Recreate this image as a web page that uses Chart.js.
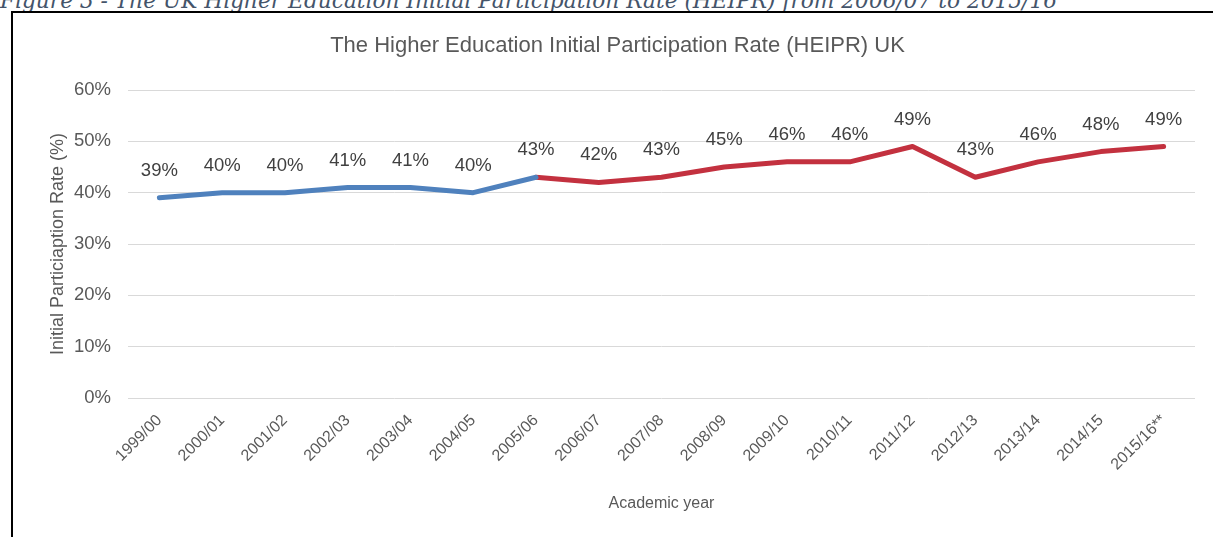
<!DOCTYPE html>
<html>
<head>
<meta charset="utf-8">
<script src="https://cdn.jsdelivr.net/npm/chart.js@4.4.1/dist/chart.umd.min.js"></script>
<style>
  html, body { margin: 0; padding: 0; background: #fff; width: 1213px; height: 537px; overflow: hidden; }
  #wrap { position: relative; width: 1213px; height: 537px; }
  #caption { position: absolute; left: 0; top: -12px; white-space: nowrap; font-family: "DejaVu Serif", "Liberation Serif", serif; font-style: italic; font-size: 22px; line-height: 26px; color: #44546a; transform-origin: 0 0; }
  #box { position: absolute; left: 11px; top: 11px; width: 1300px; height: 600px; border: 2px solid #000; box-sizing: border-box; background: transparent; }
  canvas { position: absolute; left: 0; top: 0; }
</style>
</head>
<body>
<div id="wrap">
  <div id="caption">Figure 3 - The UK Higher Education Initial Participation Rate (HEIPR) from 2006/07 to 2015/16</div>
  <div id="box"></div>
  <canvas id="c" width="1213" height="537"></canvas>
</div>
<script>
const categories = ["1999/00","2000/01","2001/02","2002/03","2003/04","2004/05","2005/06","2006/07","2007/08","2008/09","2009/10","2010/11","2011/12","2012/13","2013/14","2014/15","2015/16**"];
const earlyRates = [39,40,40,41,41,40,43,null,null,null,null,null,null,null,null,null,null];
const laterRates = [null,null,null,null,null,null,43,42,43,45,46,46,49,43,46,48,49];
const yTicks = [0,10,20,30,40,50,60];

// fit caption width
const cap = document.getElementById('caption');
const w = cap.getBoundingClientRect().width;
cap.style.transform = 'scaleX(' + (1057 / w) + ')';

const FONT = '"Liberation Sans", Arial, sans-serif';

const labelPlugin = {
  id: 'pointLabels',
  afterDatasetsDraw(chart) {
    const ctx = chart.ctx;
    ctx.save();
    ctx.font = '18.5px ' + FONT;
    ctx.fillStyle = '#404040';
    ctx.textAlign = 'center';
    ctx.textBaseline = 'middle';
    chart.data.datasets.forEach((ds, di) => {
      const meta = chart.getDatasetMeta(di);
      meta.data.forEach((pt, i) => {
        const v = ds.data[i];
        if (v === null || v === undefined) return;
        if (di === 1 && earlyRates[i] !== null) return; // avoid duplicate label
        ctx.fillText(v + '%', pt.x, pt.y - 27);
      });
    });
    ctx.restore();
  }
};

new Chart(document.getElementById('c'), {
  type: 'line',
  data: {
    labels: categories,
    datasets: [
      { data: earlyRates, borderColor: '#4f81bd', backgroundColor: '#4f81bd', borderWidth: 5, pointRadius: 0, tension: 0, spanGaps: false, borderCapStyle: 'round', borderJoinStyle: 'round' },
      { data: laterRates, borderColor: '#c3313f', backgroundColor: '#c3313f', borderWidth: 5, pointRadius: 0, tension: 0, spanGaps: false, borderCapStyle: 'round', borderJoinStyle: 'round' }
    ]
  },
  options: {
    responsive: false,
    animation: false,
    devicePixelRatio: 1,
    layout: { padding: { left: 40, right: 18, top: 0, bottom: 0 } },
    plugins: {
      legend: { display: false },
      tooltip: { enabled: false },
      title: {
        display: true,
        text: 'The Higher Education Initial Participation Rate (HEIPR) UK',
        color: '#595959',
        font: { family: FONT, size: 22, weight: 'normal' },
        padding: { top: 33, bottom: 30.6 }
      }
    },
    scales: {
      x: {
        offset: true,
        grid: { display: false },
        border: { display: false },
        ticks: { color: '#595959', font: { family: FONT, size: 16 }, maxRotation: 45, minRotation: 45, padding: 5, autoSkip: false },
        title: { display: true, text: 'Academic year', color: '#595959', font: { family: FONT, size: 16 }, padding: { top: 0, bottom: 23.4 } },
        afterFit(scale) { scale.height = 537 - 398; }
      },
      y: {
        min: 0, max: 60,
        afterBuildTicks(scale) { scale.ticks = yTicks.map(v => ({ value: v })); },
        grid: { color: '#d9d9d9', lineWidth: 1, drawTicks: false },
        border: { display: false },
        ticks: { color: '#595959', font: { family: FONT, size: 18.5 }, padding: 17, callback: v => v + '%' },
        title: { display: true, text: 'Initial Particiaption Rate (%)', color: '#595959', font: { family: FONT, size: 18 }, padding: { top: 7.2, bottom: 0 } },
        afterFit(scale) { scale.width = 128 - 40; }
      }
    }
  },
  plugins: [labelPlugin]
});
</script>
</body>
</html>
